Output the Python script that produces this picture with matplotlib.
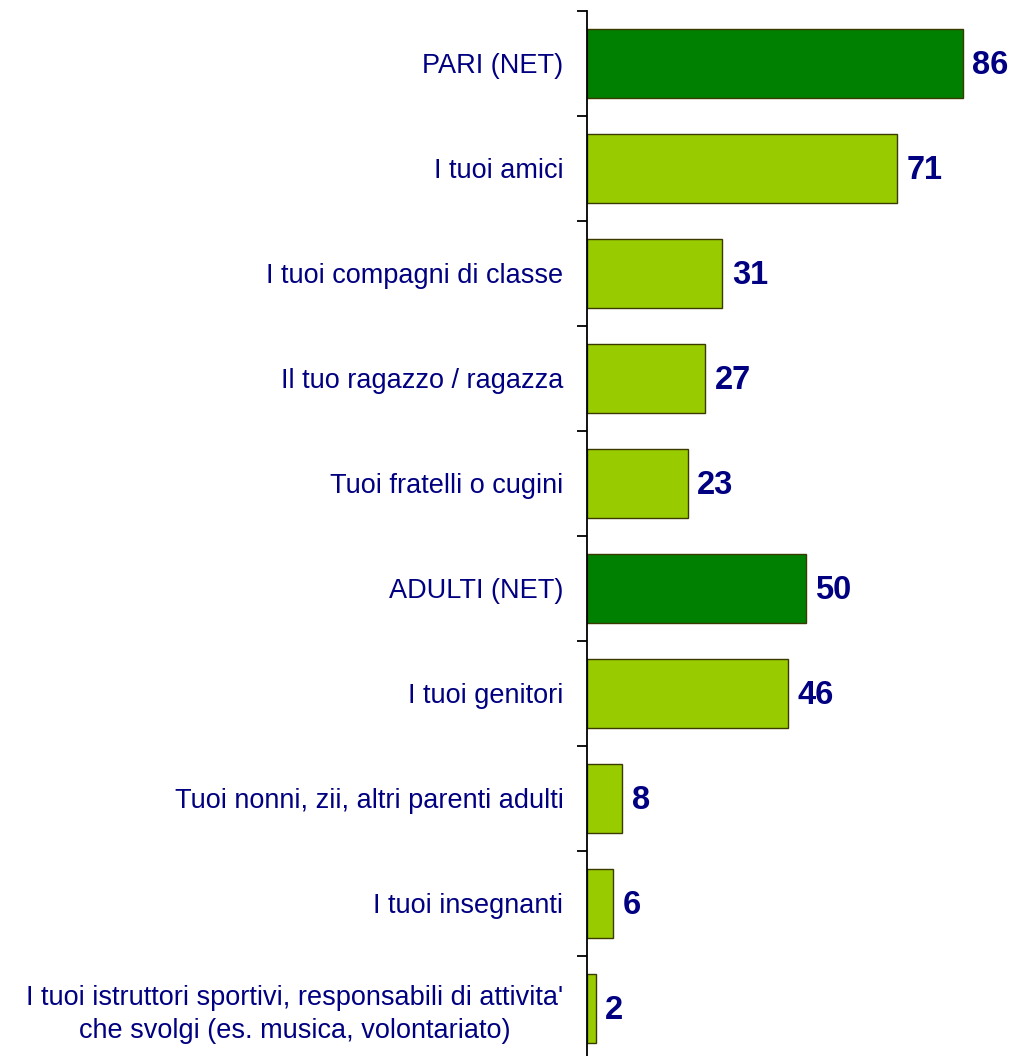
import matplotlib
matplotlib.use("Agg")
import matplotlib.pyplot as plt

categories = [
    "PARI (NET)",
    "I tuoi amici",
    "I tuoi compagni di classe",
    "Il tuo ragazzo / ragazza",
    "Tuoi fratelli o cugini",
    "ADULTI (NET)",
    "I tuoi genitori",
    "Tuoi nonni, zii, altri parenti adulti",
    "I tuoi insegnanti",
    "I tuoi istruttori sportivi, responsabili di attivita'\nche svolgi (es. musica, volontariato)",
]
values = [86, 71, 31, 27, 23, 50, 46, 8, 6, 2]
is_net = [True, False, False, False, False, True, False, False, False, False]

DARK = "#008000"
LIGHT = "#99CC00"
NAVY = "#000080"

plt.rcParams["font.family"] = ["Liberation Sans", "DejaVu Sans"]

fig = plt.figure(figsize=(10.13, 10.56), dpi=100)
ax = fig.add_axes([587 / 1013, -5 / 1056, 437 / 1013, 1050 / 1056])

n = len(categories)
ypos = list(range(n))
colors = [DARK if net else LIGHT for net in is_net]
ax.barh(ypos, values, height=0.66, color=colors, edgecolor="#3a3a00", linewidth=1.0)

for y, v in zip(ypos, values):
    ax.text(v + 2.2, y + 0.02, str(v), va="center", ha="left", color=NAVY,
            fontsize=23.5, fontweight="bold")

ax.set_xlim(0, 100)
ax.set_ylim(n - 0.5, -0.5)
ax.set_yticks(ypos)
ax.set_yticklabels(categories, color=NAVY, fontsize=19.5, multialignment="center",
                   linespacing=1.3)
ax.tick_params(axis="y", length=0, pad=17)
ax.set_yticks([i - 0.5 for i in range(n + 1)], minor=True)
ax.tick_params(axis="y", which="minor", length=7.2, width=1.3, direction="out")
ax.set_xticks([])
for s in ("top", "right", "bottom"):
    ax.spines[s].set_visible(False)
ax.spines["left"].set_linewidth(1.3)

fig.savefig("out.png", dpi=100)
